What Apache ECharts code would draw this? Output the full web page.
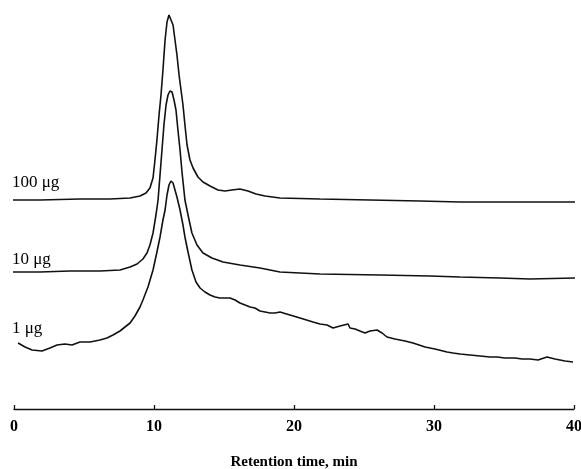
<!DOCTYPE html>
<html>
<head>
<meta charset="utf-8">
<script src="https://cdn.jsdelivr.net/npm/echarts@6/dist/echarts.min.js"></script>
<style>html,body{margin:0;padding:0;background:#fff;}#c{width:581px;height:469px;}</style>
</head>
<body>
<div id="c"></div>
<script>
// Retention time (min) and detector response (arbitrary units, offset traces)
var t100 = [-0.29,1.86,4.71,6.86,8.29,9.0,9.43,9.71,9.93,10.07,10.21,10.36,10.5,10.64,10.79,10.93,11.07,11.21,11.36,11.5,11.64,11.79,11.93,12.07,12.21,12.36,12.57,12.79,13.14,13.5,14.0,14.57,15.07,15.57,16.14,16.71,17.29,17.93,19.0,21.86,25.43,29.0,31.86,34.71,37.57,40.07];
var r100 = [209,209,210,210,211,213,216,221,231,249,269,294,314,339,369,387,394,392,384,369,354,334,319,304,284,264,249,241,232,227,223,219,218,219,220,218,215,213,211,210,209,208,207,207,207,207];

var t10 = [-0.29,1.86,4.0,6.14,7.57,8.29,8.79,9.21,9.5,9.71,9.93,10.14,10.29,10.43,10.57,10.71,10.86,11.0,11.14,11.29,11.43,11.57,11.71,11.86,12.0,12.21,12.43,12.71,13.07,13.5,14.14,14.93,16.14,17.57,19.0,21.86,26.14,29.71,31.86,34.71,36.86,40.07];
var r10 = [137,137,138,138,139,142,145,150,156,164,176,194,209,234,259,284,304,314,318,317,309,299,279,259,237,209,194,176,164,156,151,147,144,141,137,135,134,133,132,131,130,131];

var t1 = [0.29,0.79,1.29,2.0,2.57,3.07,3.64,4.14,4.71,5.43,6.14,6.64,7.07,7.57,7.93,8.29,8.64,9.0,9.21,9.57,9.93,10.21,10.43,10.64,10.79,10.93,11.07,11.21,11.36,11.5,11.64,11.86,12.07,12.21,12.43,12.71,13.0,13.29,13.64,14.0,14.36,14.71,15.07,15.43,15.79,16.14,16.5,16.86,17.21,17.57,17.93,18.29,18.64,19.0,19.71,20.43,21.36,21.86,22.36,22.79,23.29,23.86,24.0,24.36,24.71,25.07,25.43,25.93,26.29,26.64,27.21,27.93,28.5,29.36,30.07,30.93,31.36,31.86,32.57,33.29,34.0,34.5,35.07,35.79,36.29,36.86,37.43,38.07,38.64,39.36,39.93];
var r1 = [66,62,59,58,61,64,65,64,67,67,69,71,74,78,82,86,93,102,109,122,139,157,172,189,199,214,224,228,226,219,212,199,184,172,157,139,127,121,117,114,112,111,111,111,109,106,104,102,101,98,97,96,96,97,94,91,87,85,84,81,83,85,81,80,78,76,78,79,76,72,70,68,66,62,60,57,56,55,54,53,52,52,51,51,50,50,49,52,50,48,47];

var xTicks = [0,10,20,30,40];
var sampleNames = ['100 \u03bcg','10 \u03bcg','1 \u03bcg'];

function zip(a,b){ var o=[]; for(var i=0;i<a.length;i++) o.push([a[i],b[i]]); return o; }

var chart = echarts.init(document.getElementById('c'), null, {renderer:'canvas'});
var serif = '"Liberation Serif","Times New Roman",serif';
function lineSeries(name, t, r){
  return {name:name, type:'line', data:zip(t,r), symbol:'none', clip:false, smooth:false,
    lineStyle:{color:'#111', width:1.6}, silent:true, animation:false};
}
chart.setOption({
  animation:false,
  backgroundColor:'#fff',
  grid:{left:14, right:7, top:0, bottom:60, containLabel:false, outerBoundsMode:'none'},
  xAxis:{type:'value', min:xTicks[0], max:xTicks[xTicks.length-1], interval:10,
    axisLine:{lineStyle:{color:'#111', width:1.3}},
    axisTick:{inside:true, length:4, lineStyle:{color:'#111', width:1.3}},
    splitLine:{show:false},
    axisLabel:{color:'#000', fontFamily:serif, fontWeight:'bold', fontSize:16, margin:10},
    name:'Retention time, min', nameLocation:'middle', nameGap:46,
    nameTextStyle:{color:'#000', fontFamily:serif, fontWeight:'bold', fontSize:15}},
  yAxis:{type:'value', min:0, max:409, show:false},
  series:[lineSeries(sampleNames[0], t100, r100), lineSeries(sampleNames[1], t10, r10), lineSeries(sampleNames[2], t1, r1)],
  graphic:[
    {type:'text', left:12, top:174, style:{text:sampleNames[0], font:'17px '+serif, fill:'#000'}},
    {type:'text', left:12, top:251, style:{text:sampleNames[1], font:'17px '+serif, fill:'#000'}},
    {type:'text', left:12, top:320, style:{text:sampleNames[2], font:'17px '+serif, fill:'#000'}}
  ]
});
</script>
</body>
</html>
